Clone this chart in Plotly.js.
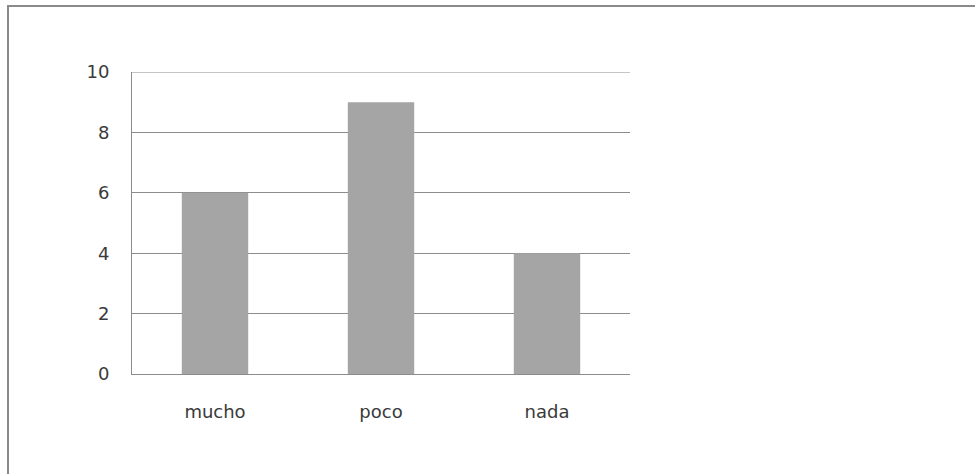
<!DOCTYPE html>
<html>
<head>
<meta charset="utf-8">
<script src="https://cdn.plot.ly/plotly-3.0.1.min.js"></script>
<style>
  html, body { margin: 0; padding: 0; background: #ffffff; }
  #wrap { position: relative; width: 975px; height: 474px; overflow: hidden; }
  #frame { position: absolute; left: 7px; top: 5px; width: 980px; height: 480px;
           border-top: 2px solid #8a8a8a; border-left: 2px solid #8a8a8a; box-sizing: border-box; pointer-events: none; }
  #chart { position: absolute; left: 0; top: 0; width: 975px; height: 474px; }
</style>
</head>
<body>
<div id="wrap">
  <div id="chart"></div>
  <div id="frame"></div>
</div>
<script>
// Answers and their counts
const categories = ["mucho", "poco", "nada"];
const counts = [6, 9, 4];
const yTicks = [0, 2, 4, 6, 8, 10];
const yMax = 10;

const labelFont = { family: "DejaVu Sans, Verdana, sans-serif", size: 18, color: "#3a3a3a" };
const lineGray = "#8c8c8c";

const trace = {
  type: "bar",
  x: categories,
  y: counts,
  marker: { color: "#a5a5a5", line: { width: 0 } },
  hoverinfo: "x+y"
};

const layout = {
  width: 975,
  height: 474,
  margin: { l: 132, r: 345, t: 72, b: 100, pad: 0 },
  paper_bgcolor: "#ffffff",
  plot_bgcolor: "#ffffff",
  bargap: 0.6,
  showlegend: false,
  xaxis: {
    type: "category",
    showgrid: false,
    showline: true,
    linecolor: lineGray,
    linewidth: 1,
    ticks: "",
    tickfont: labelFont,
    ticklabelstandoff: 21,
    zeroline: false,
    fixedrange: true
  },
  yaxis: {
    range: [0, yMax],
    tickvals: yTicks,
    ticktext: yTicks.map(String),
    showgrid: true,
    gridcolor: lineGray,
    gridwidth: 1,
    showline: true,
    linecolor: lineGray,
    linewidth: 1,
    zeroline: false,
    ticks: "",
    tickfont: labelFont,
    ticklabelstandoff: 18,
    fixedrange: true
  },
  // top gridline at the axis maximum, which the grid itself leaves out at the plot edge
  shapes: [{
    type: "line", xref: "paper", yref: "y",
    x0: 0, x1: 1, y0: yMax, y1: yMax,
    line: { color: lineGray, width: 1 }
  }]
};

Plotly.newPlot("chart", [trace], layout, { displayModeBar: false, staticPlot: true });
</script>
</body>
</html>
